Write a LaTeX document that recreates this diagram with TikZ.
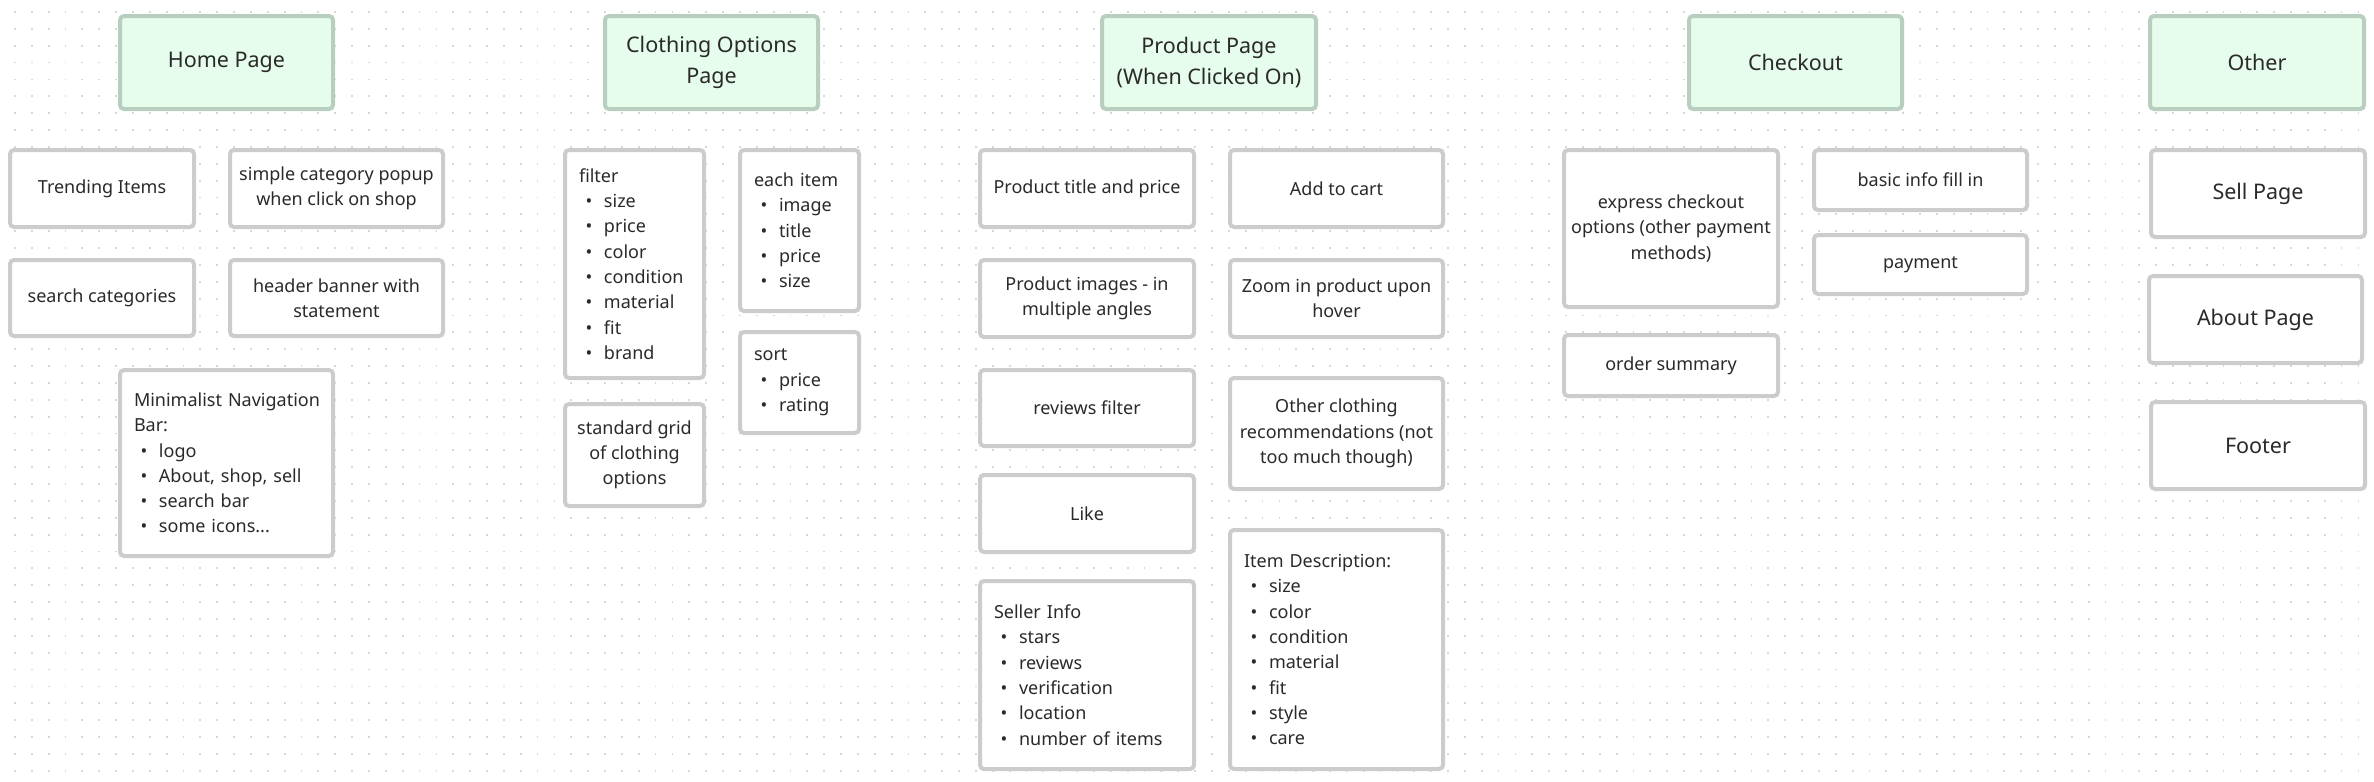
\documentclass[tikz,border=0pt]{standalone}
\usepackage{fontspec}
\setmainfont{Noto Sans}

\definecolor{headfill}{HTML}{E6FCEC}
\definecolor{headline}{HTML}{B8CFC0}
\definecolor{cardline}{HTML}{CCCCCC}
\definecolor{ink}{HTML}{2A2A2A}
\definecolor{griddot}{HTML}{D8D8D8}

\newcommand{\bitem}[1]{\makebox[10pt][c]{\textbullet}\hspace{2.5pt}#1}

\begin{document}
\begin{tikzpicture}[x=0.5pt,y=-0.5pt,
  head/.style={draw=headline,line width=2pt,rounded corners=2pt,fill=headfill,text=ink,align=center,inner sep=0pt,font=\fontsize{10.75}{15.85}\selectfont,minimum width=106.5pt,minimum height=46.5pt},
  card/.style={draw=cardline,line width=2pt,rounded corners=2pt,fill=white,text=ink,align=center,inner sep=0pt,font=\fontsize{9}{12.65}\selectfont},
  listcard/.style={card,align=left,inner xsep=7pt},
  bigcard/.style={card,font=\fontsize{10.75}{15.85}\selectfont,minimum width=107pt,minimum height=43.5pt}]
\useasboundingbox (0,0) rectangle (2374,782);
\fill[white] (0,0) rectangle (2374,782);
\foreach \r in {0,...,45}
  \draw[griddot,line width=0.9pt,dash pattern=on 0.9pt off 7.53pt] (14,{12+\r*16.86}) -- (2374,{12+\r*16.86});

\node[head] (hp) at (226.5,62.5) {Home Page};
\node[card,minimum width=92pt,minimum height=38.5pt] (hp1) at (102,188.5) {Trending Items};
\node[card,minimum width=106.5pt,minimum height=38.5pt] (hp2) at (336.5,188.5) {simple category popup\\when click on shop};
\node[card,minimum width=92pt,minimum height=38pt] (hp3) at (102,298) {search categories};
\node[card,minimum width=106.5pt,minimum height=38pt] (hp4) at (336.5,298) {header banner with\\statement};
\node[listcard,text width=92.5pt,minimum height=93pt] (hp5) at (226.5,463) {\mbox{Minimalist Navigation}\\Bar:\\\bitem{logo}\\\bitem{About, shop, sell}\\\bitem{search bar}\\\bitem{some icons...}};

\node[head] (co) at (711.5,62.5) {Clothing Options\\Page};
\node[listcard,text width=55.5pt,minimum height=114pt] (co1) at (634.5,264) {filter\\\bitem{size}\\\bitem{price}\\\bitem{color}\\\bitem{condition}\\\bitem{material}\\\bitem{fit}\\\bitem{brand}};
\node[card,minimum width=69.5pt,minimum height=51pt] (co2) at (634.5,455) {standard grid\\of clothing\\options};
\node[listcard,text width=45.5pt,minimum height=80.5pt] (co3) at (799.5,230.5) {each item\\\bitem{image}\\\bitem{title}\\\bitem{price}\\\bitem{size}};
\node[listcard,text width=45.5pt,minimum height=50.5pt] (co4) at (799.5,382.5) {sort\\\bitem{price}\\\bitem{rating}};

\node[head,minimum width=107pt] (pp) at (1209,62.5) {Product Page\\(When Clicked On)};
\node[card,minimum width=107pt,minimum height=38.5pt] (pp1) at (1087,188.5) {Product title and price};
\node[card,minimum width=106.5pt,minimum height=38.5pt] (pp2) at (1336.5,188.5) {Add to cart};
\node[card,minimum width=107pt,minimum height=38.5pt] (pp3) at (1087,298.5) {Product images - in\\multiple angles};
\node[card,minimum width=106.5pt,minimum height=38.5pt] (pp4) at (1336.5,298.5) {Zoom in product upon\\hover};
\node[card,minimum width=107pt,minimum height=38pt] (pp5) at (1087,408) {reviews filter};
\node[card,minimum width=106.5pt,minimum height=55.5pt] (pp6) at (1336.5,433.5) {Other clothing\\recommendations (not\\too much though)};
\node[card,minimum width=107pt,minimum height=38.5pt] (pp7) at (1087,513.5) {Like};
\node[listcard,text width=93pt,minimum height=94pt] (pp8) at (1087,675) {Seller Info\\\bitem{stars}\\\bitem{reviews}\\\bitem{verification}\\\bitem{location}\\\bitem{number of items}};
\node[listcard,text width=92.5pt,minimum height=119.5pt] (pp9) at (1336.5,649.5) {Item Description:\\\bitem{size}\\\bitem{color}\\\bitem{condition}\\\bitem{material}\\\bitem{fit}\\\bitem{style}\\\bitem{care}};

\node[head] (ck) at (1795.5,62.5) {Checkout};
\node[card,minimum width=107pt,minimum height=78.5pt] (ck1) at (1671,228.5) {express checkout\\options (other payment\\methods)};
\node[card,minimum width=106.5pt,minimum height=30pt] (ck2) at (1920.5,180) {basic info fill in};
\node[card,minimum width=106.5pt,minimum height=29.5pt] (ck3) at (1920.5,264.5) {payment};
\node[card,minimum width=107pt,minimum height=30.5pt] (ck4) at (1671,365.5) {order summary};

\node[head,minimum width=107pt] (ot) at (2257,62.5) {Other};
\node[bigcard] (ot1) at (2258,193.5) {Sell Page};
\node[bigcard,minimum width=106.5pt] (ot2) at (2255.5,319.5) {About Page};
\node[bigcard] (ot3) at (2258,445.5) {Footer};
\end{tikzpicture}
\end{document}
